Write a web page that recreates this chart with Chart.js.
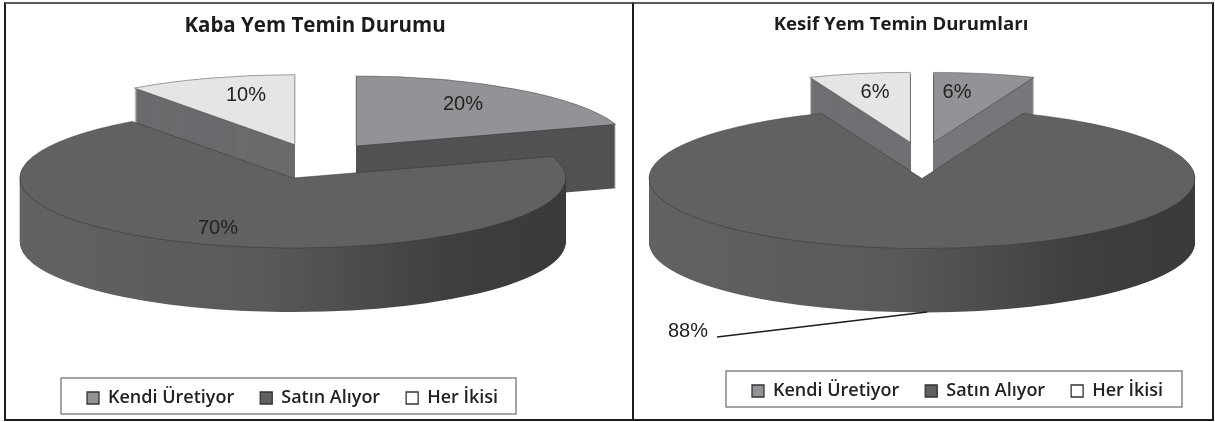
<!DOCTYPE html>
<html>
<head>
<meta charset="utf-8">
<title>Yem Temin Durumu</title>
<script src="https://cdn.jsdelivr.net/npm/chart.js@4"></script>
<style>
    html, body { margin: 0; background: #fff; }
    body { position: relative; width: 1215px; height: 422px; overflow: hidden; }
    canvas { position: absolute; left: 0; top: 0; }
    .frame { position: absolute; box-sizing: border-box; top: 2px; height: 419px; border: 2px solid #1c1c1c; border-top-color: #5a5a5a; }
</style>
</head>
<body>
<div class="frame" style="left:4px;width:630px"></div>
<div class="frame" style="left:632px;width:582px;border-left-width:2px"></div>
<canvas id="kaba" width="1215" height="422"></canvas>
<canvas id="kesif" width="1215" height="422"></canvas>
<script>
const legendLabels = ['Kendi Üretiyor', 'Satın Alıyor', 'Her İkisi'];
const kabaValues = [20, 70, 10];
const kesifValues = [6, 88, 6];

const TOP_COLORS = ['#929396', '#616163', '#e4e5e7'];
const MAIN_WALL = [[0, '#626264'], [0.45, '#59595b'], [0.8, '#3e3e3e'], [1, '#3a3a3a']];
const TEXT_COLOR = '#222';
const LEGEND_SWATCH = ['#929396', '#616163', '#ffffff'];
const LEGEND_FONT = 18;
const RADIUS = 273;
const SQUASH = 0.2564;
const DEPTH = 64;

// draws the slices flattened, each one pulled out of the centre, with a wall under it
const pie3d = {
    id: 'pie3d',
    afterLayout(chart, args, o) {
        const title = chart.titleBlock;
        title.left = o.titleX - 200;
        title.right = o.titleX + 200;
        const legend = chart.legend;
        const pad = legend.options.labels.padding;
        legend.left = o.legendBox.x;
        // wide on purpose, the legend wraps its items against this edge
        legend.right = chart.width;
        legend.top = o.legendBox.y + o.legendBox.h / 2 - pad - LEGEND_FONT / 2 + 2;
        legend.bottom = legend.top + legend.height;
    },
    beforeDraw(chart, args, o) {
        const b = o.legendBox;
        const ctx = chart.ctx;
        ctx.save();
        ctx.fillStyle = '#fff';
        ctx.strokeStyle = '#6a6a6a';
        ctx.lineWidth = 1.2;
        ctx.fillRect(b.x, b.y, b.w, b.h);
        ctx.strokeRect(b.x, b.y, b.w, b.h);
        ctx.restore();
    },
    beforeDatasetDraw(chart, args, o) {
        const ctx = chart.ctx;
        const arcs = args.meta.data;
        // biggest slice last, its top hides the walls of the others
        const order = arcs.map((a, i) => i).sort((a, b) => o.values[a] - o.values[b]);
        order.forEach(i => {
            const arc = arcs[i];
            const mid = (arc.startAngle + arc.endAngle) / 2;
            const x = o.center.x + o.explode[i] * Math.cos(mid);
            const y = o.center.y + o.explode[i] * Math.sin(mid) * SQUASH;
            const wall = o.walls[i];
            let fill = wall;
            if (Array.isArray(wall)) {
                fill = ctx.createLinearGradient(-arc.outerRadius, 0, arc.outerRadius, 0);
                wall.forEach(s => fill.addColorStop(s[0], s[1]));
            }
            for (let d = DEPTH; d > 0; d--) {
                ctx.save();
                ctx.translate(x, y + d);
                ctx.scale(1, SQUASH);
                ctx.fillStyle = fill;
                ctx.beginPath();
                ctx.moveTo(0, 0);
                ctx.arc(0, 0, arc.outerRadius, arc.startAngle, arc.endAngle);
                ctx.closePath();
                ctx.fill();
                ctx.restore();
            }
            ctx.save();
            ctx.translate(x, y);
            ctx.scale(1, SQUASH);
            ctx.translate(-arc.x, -arc.y);
            arc.draw(ctx);
            ctx.restore();
        });
        return false;
    },
    afterDraw(chart, args, o) {
        const ctx = chart.ctx;
        ctx.save();
        ctx.font = '20px "Liberation Sans"';
        ctx.fillStyle = TEXT_COLOR;
        ctx.textAlign = 'center';
        ctx.textBaseline = 'middle';
        o.values.forEach((v, i) => ctx.fillText(v + '%', o.labels[i][0], o.labels[i][1]));
        if (o.leader) {
            ctx.strokeStyle = '#1c1c1c';
            ctx.lineWidth = 1.5;
            ctx.beginPath();
            ctx.moveTo(o.leader[0], o.leader[1]);
            ctx.lineTo(o.leader[2], o.leader[3]);
            ctx.stroke();
        }
        ctx.restore();
    }
};

function legendItems(chart) {
    const items = Chart.overrides.doughnut.plugins.legend.labels.generateLabels(chart);
    items.forEach((item, i) => {
        item.fillStyle = LEGEND_SWATCH[i];
        item.strokeStyle = '#333';
        item.lineWidth = 1.3;
    });
    return items;
}

function makeChart(id, titleText, values, panel) {
    return new Chart(document.getElementById(id), {
        type: 'pie',
        data: {
            labels: legendLabels,
            datasets: [{
                data: values,
                backgroundColor: TOP_COLORS,
                borderColor: '#2f2f2f',
                borderWidth: 0.7,
                clip: false
            }]
        },
        options: {
            responsive: false,
            animation: false,
            radius: RADIUS,
            events: [],
            plugins: {
                title: {
                    display: true,
                    text: titleText,
                    color: '#1c1c1c',
                    font: { family: '"Open Sans"', size: panel.titleSize, weight: '700' },
                    padding: { top: 14, bottom: 0 }
                },
                legend: {
                    position: 'bottom',
                    align: 'start',
                    labels: {
                        generateLabels: legendItems,
                        boxWidth: 12,
                        boxHeight: 12,
                        padding: 26,
                        color: '#222',
                        font: { family: '"Open Sans"', size: LEGEND_FONT, weight: '600' }
                    }
                },
                tooltip: { enabled: false },
                pie3d: Object.assign({ values }, panel)
            }
        },
        plugins: [pie3d]
    });
}

makeChart('kaba', 'Kaba Yem Temin Durumu', kabaValues, {
    center: { x: 315, y: 160.5 },
    explode: [70, 72, 65],
    walls: ['#525254', MAIN_WALL, '#6a6b6e'],
    titleX: 315,
    titleSize: 20.5,
    legendBox: { x: 61, y: 378, w: 455, h: 36 },
    labels: [[463, 104], [218, 228], [246, 95]]
});

makeChart('kesif', 'Kesif Yem Temin Durumları', kesifValues, {
    center: { x: 922, y: 158 },
    explode: [62, 80, 62],
    walls: ['#77787b', MAIN_WALL, '#6f7073'],
    titleX: 901,
    titleSize: 18.6,
    legendBox: { x: 726, y: 371, w: 456, h: 36 },
    labels: [[957, 92], [688, 331], [875, 92]],
    leader: [717, 337, 927, 312]
});
</script>
</body>
</html>
